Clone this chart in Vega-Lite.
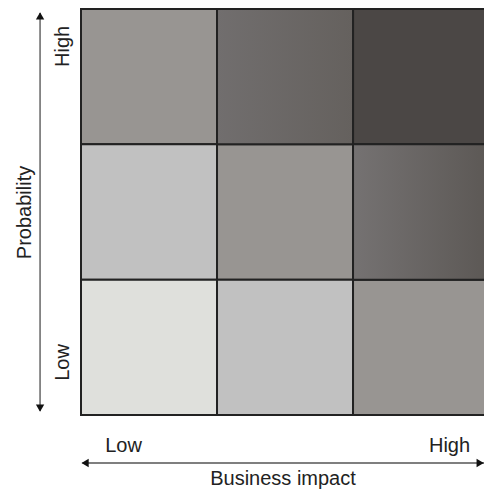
{
  "$schema": "https://vega.github.io/schema/vega-lite/v6.json",
  "width": 403,
  "height": 406,
  "autosize": {"type": "none"},
  "padding": {"left": 81, "top": 9, "right": 0, "bottom": 76},
  "background": "white",
  "config": {
    "view": {"stroke": null},
    "font": "Liberation Sans",
    "axis": {"grid": false, "ticks": false, "tickSize": 0, "domain": false, "labelFont": "Liberation Sans", "titleFont": "Liberation Sans", "labelFontSize": 20, "titleFontSize": 20, "labelColor": "#222222", "titleColor": "#222222", "titleFontWeight": "normal"}
  },
  "datasets": {
    "cells": [
      {"impact_lo": 0, "impact_hi": 1, "prob_lo": 2, "prob_hi": 3, "level": "3"},
      {"impact_lo": 1, "impact_hi": 2, "prob_lo": 2, "prob_hi": 3, "level": "4a"},
      {"impact_lo": 2, "impact_hi": 3, "prob_lo": 2, "prob_hi": 3, "level": "5"},
      {"impact_lo": 0, "impact_hi": 1, "prob_lo": 1, "prob_hi": 2, "level": "2"},
      {"impact_lo": 1, "impact_hi": 2, "prob_lo": 1, "prob_hi": 2, "level": "3"},
      {"impact_lo": 2, "impact_hi": 3, "prob_lo": 1, "prob_hi": 2, "level": "4b"},
      {"impact_lo": 0, "impact_hi": 1, "prob_lo": 0, "prob_hi": 1, "level": "1"},
      {"impact_lo": 1, "impact_hi": 2, "prob_lo": 0, "prob_hi": 1, "level": "2"},
      {"impact_lo": 2, "impact_hi": 3, "prob_lo": 0, "prob_hi": 1, "level": "3"}
    ],
    "yarrow": [
      {"ax": -0.301, "ay": 0.03, "ay2": 2.97}
    ],
    "yheads": [
      {"ax": -0.301, "ay": 2.95, "dir": "up"},
      {"ax": -0.301, "ay": 0.05, "dir": "down"}
    ],
    "xarrow": [
      {"ax": 0.01, "ax2": 2.963, "ay": -0.355}
    ],
    "xheads": [
      {"ax": 0.03, "ay": -0.355, "dir": "left"},
      {"ax": 2.935, "ay": -0.355, "dir": "right"}
    ]
  },
  "layer": [
    {
      "data": {"name": "cells"},
      "transform": [{"filter": "datum.level != '4a' && datum.level != '4b'"}],
      "mark": {"type": "rect", "stroke": "#222222", "strokeWidth": 2},
      "encoding": {
        "x": {"field": "impact_lo", "type": "quantitative", "scale": {"domain": [0, 2.963], "nice": false, "zero": false},
          "axis": {"orient": "bottom", "values": [0.309, 2.706], "labelExpr": "datum.value < 1.5 ? 'Low' : 'High'", "labelBaseline": "alphabetic", "labelAlign": "center", "labelPadding": 36, "title": "Business impact", "titlePadding": 13}},
        "x2": {"field": "impact_hi"},
        "y": {"field": "prob_lo", "type": "quantitative", "scale": {"domain": [0, 3], "nice": false, "zero": false},
          "axis": {"orient": "left", "values": [0.392, 2.727], "labelExpr": "datum.value < 1.5 ? 'Low' : 'High'", "labelAngle": -90, "labelAlign": "center", "labelBaseline": "alphabetic", "labelPadding": 13, "title": "Probability", "titlePadding": 18}},
        "y2": {"field": "prob_hi"},
        "color": {"field": "level", "type": "nominal", "legend": null,
          "scale": {"domain": ["1", "2", "3", "5"], "range": ["#dfe0dc", "#c1c1c1", "#989592", "#4b4745"]}}
      }
    },
    {
      "data": {"name": "cells"},
      "transform": [{"filter": "datum.level == '4a'"}],
      "mark": {"type": "rect", "stroke": "#222222", "strokeWidth": 2,
        "fill": {"gradient": "linear", "x1": 0, "x2": 1, "y1": 0, "y2": 0, "stops": [{"offset": 0, "color": "#716e6e"}, {"offset": 1, "color": "#65615e"}]}},
      "encoding": {
        "x": {"field": "impact_lo", "type": "quantitative"},
        "x2": {"field": "impact_hi"},
        "y": {"field": "prob_lo", "type": "quantitative"},
        "y2": {"field": "prob_hi"}
      }
    },
    {
      "data": {"name": "cells"},
      "transform": [{"filter": "datum.level == '4b'"}],
      "mark": {"type": "rect", "stroke": "#222222", "strokeWidth": 2,
        "fill": {"gradient": "linear", "x1": 0, "x2": 1, "y1": 0, "y2": 0, "stops": [{"offset": 0, "color": "#757272"}, {"offset": 1, "color": "#5c5855"}]}},
      "encoding": {
        "x": {"field": "impact_lo", "type": "quantitative"},
        "x2": {"field": "impact_hi"},
        "y": {"field": "prob_lo", "type": "quantitative"},
        "y2": {"field": "prob_hi"}
      }
    },
    {
      "data": {"name": "yarrow"},
      "mark": {"type": "rule", "color": "#666666", "strokeWidth": 1.5, "clip": false},
      "encoding": {
        "x": {"field": "ax", "type": "quantitative"},
        "y": {"field": "ay", "type": "quantitative"},
        "y2": {"field": "ay2"}
      }
    },
    {
      "data": {"name": "xarrow"},
      "mark": {"type": "rule", "color": "#555555", "strokeWidth": 1.5, "clip": false},
      "encoding": {
        "x": {"field": "ax", "type": "quantitative"},
        "x2": {"field": "ax2"},
        "y": {"field": "ay", "type": "quantitative"}
      }
    },
    {
      "data": {"name": "yheads"},
      "mark": {"type": "point", "filled": true, "color": "#111111", "opacity": 1, "size": 70, "clip": false},
      "encoding": {
        "x": {"field": "ax", "type": "quantitative"},
        "y": {"field": "ay", "type": "quantitative"},
        "shape": {"field": "dir", "type": "nominal", "legend": null, "scale": {"domain": ["up", "down"], "range": ["triangle-up", "triangle-down"]}}
      }
    },
    {
      "data": {"name": "xheads"},
      "mark": {"type": "point", "filled": true, "color": "#111111", "opacity": 1, "size": 70, "clip": false},
      "encoding": {
        "x": {"field": "ax", "type": "quantitative"},
        "y": {"field": "ay", "type": "quantitative"},
        "shape": {"field": "dir", "type": "nominal", "legend": null, "scale": {"domain": ["left", "right"], "range": ["triangle-left", "triangle-right"]}}
      }
    }
  ],
  "resolve": {"scale": {"shape": "independent"}}
}
